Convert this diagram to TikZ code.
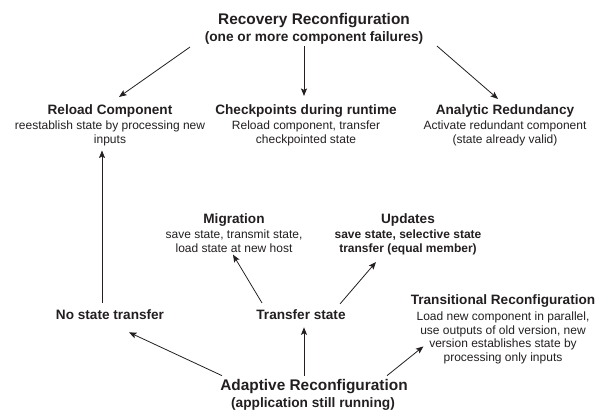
\documentclass[tikz,border=0pt]{standalone}
\usepackage{fontspec}
\setmainfont{Liberation Sans}
\usetikzlibrary{arrows.meta,calc}
\definecolor{ink}{HTML}{231F20}
\tikzset{
  big/.style={font=\fontsize{15.4}{18}\selectfont\bfseries, anchor=base, inner sep=0pt, text=ink},
  paren/.style={font=\fontsize{13.7}{16}\selectfont\bfseries, anchor=base, inner sep=0pt, text=ink},
  ttl/.style={font=\fontsize{13.6}{16}\selectfont\bfseries, anchor=base, inner sep=0pt, text=ink},
  desc/.style={font=\fontsize{12}{14}\selectfont, anchor=north, align=center, inner sep=0pt, text=ink},
  descb/.style={font=\fontsize{12}{14}\selectfont\bfseries, anchor=north, align=center, inner sep=0pt, text=ink},
  descw/.style={font=\fontsize{12}{13.8}\selectfont, anchor=north, align=center, inner sep=0pt, text=ink},
  arr/.style={draw=ink, line width=0.8pt, -{Stealth[length=7.5pt,width=6pt,inset=1.5pt]}}
}
\begin{document}
\begin{tikzpicture}[x=1pt,y=-1pt]
\useasboundingbox (0,0) rectangle (605,413);
% top
\node[big]   (rec1) at (314,24) {Recovery Reconfiguration};
\node[paren] (rec2) at (314,41) {(one or more component failures)};
% recovery options
\node[ttl]  (reloadT) at (110,114) {Reload Component};
\node[desc] (reloadD) at (110,120.4) {reestablish state by processing new\\inputs};
\node[ttl]  (chkT) at (306,114) {Checkpoints during runtime};
\node[desc] (chkD) at (306,120.4) {Reload component, transfer\\checkpointed state};
\node[ttl]  (anaT) at (505,114) {Analytic Redundancy};
\node[desc] (anaD) at (505,120.4) {Activate redundant component\\(state already valid)};
% middle
\node[ttl]  (migT) at (234,223) {Migration};
\node[desc] (migD) at (234,229.4) {save state, transmit state,\\load state at new host};
\node[ttl]  (updT) at (408,223) {Updates};
\node[descb] (updD) at (408,229.4) {save state, selective state\\transfer (equal member)};
\node[ttl]  (nostate) at (110,319) {No state transfer};
\node[ttl]  (transfer) at (301,319) {Transfer state};
\node[ttl]  (transT) at (503,304) {Transitional Reconfiguration};
\node[descw] (transD) at (503,311.4) {Load new component in parallel,\\use outputs of old version, new\\version establishes state by\\processing only inputs};
% bottom
\node[big]   (ad1) at (314,390) {Adaptive Reconfiguration};
\node[paren] (ad2) at (313,407) {(application still running)};
% arrows from recovery
\draw[arr] ($(rec2.south)+(-124,3)$) -- ($(reloadT.north)+(9,-7)$);
\draw[arr] ($(rec2.south)+(-10,2)$) -- ($(chkT.north)+(-2,-8)$);
\draw[arr] ($(rec2.south)+(123,2)$) -- ($(anaT.north)+(-7,-5)$);
% no state transfer up to reload
\draw[arr] ($(nostate.north)+(-8,-6)$) -- ($(reloadD.south)+(-8,4.5)$);
% transfer state
\draw[arr] ($(transfer.north)+(-39,-6)$) -- ($(migD.south)+(-1,2)$);
\draw[arr] ($(transfer.north)+(39,-5)$) -- ($(updD.south)+(-32,7)$);
% adaptive
\draw[arr] ($(ad1.north)+(-92,-3)$) -- ($(nostate.south)+(19,13)$);
\draw[arr] ($(ad1.north)+(-10,-3)$) -- ($(transfer.south)+(3,8)$);
\draw[arr] ($(ad1.north)+(73,-3)$) -- ($(transD.west)+(7,8.5)$);
\end{tikzpicture}
\end{document}
